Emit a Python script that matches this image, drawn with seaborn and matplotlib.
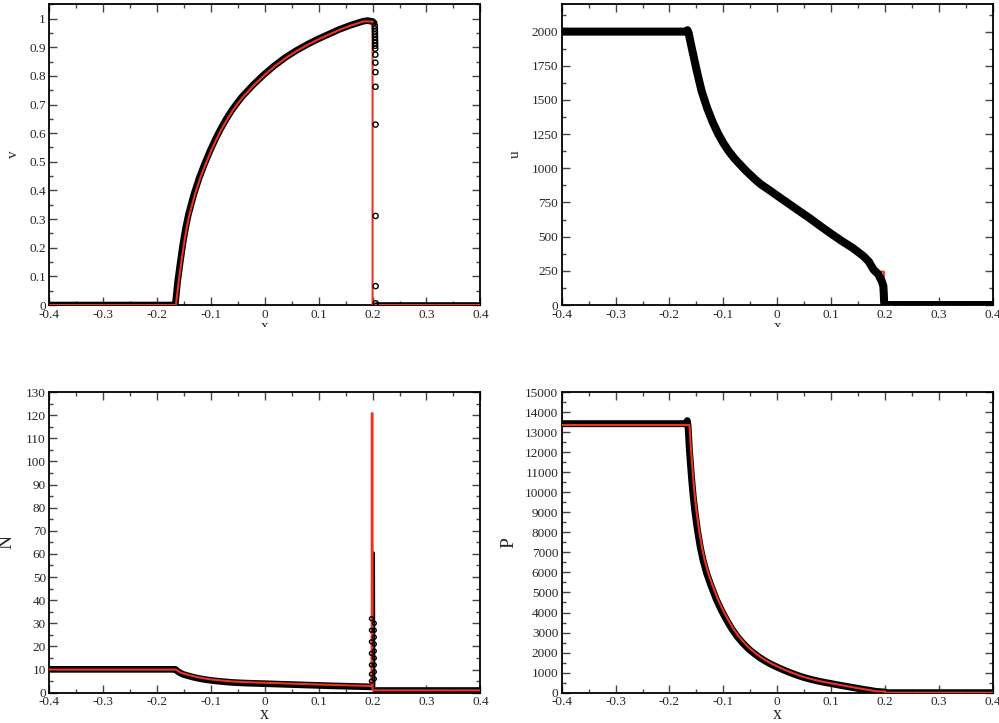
import numpy as np
import pandas as pd
import matplotlib
matplotlib.use("Agg")
import matplotlib.pyplot as plt
from matplotlib.ticker import MultipleLocator, FuncFormatter
from matplotlib.transforms import Bbox
import seaborn as sns

# ---------------- data ----------------
# v panel: exact solution (red)
v_ex_x = [-0.4, -0.165, -0.160, -0.155, -0.150, -0.145, -0.140, -0.130, -0.120, -0.110,
          -0.100, -0.090, -0.080, -0.070, -0.060, -0.050, -0.040, -0.020, 0.000, 0.020,
          0.040, 0.060, 0.080, 0.100, 0.120, 0.140, 0.160, 0.183, 0.200, 0.200, 0.400]
v_ex_y = [0.0, 0.0, 0.08, 0.15, 0.215, 0.27, 0.315, 0.385, 0.443, 0.492,
          0.537, 0.578, 0.615, 0.648, 0.678, 0.704, 0.728, 0.768, 0.804, 0.836,
          0.864, 0.888, 0.909, 0.928, 0.945, 0.962, 0.976, 0.99, 0.99, 0.0, 0.0]
# v panel: numerical solution (black band)
v_num_x = [-0.4, -0.168, -0.1665, -0.162, -0.157, -0.152, -0.147, -0.142, -0.132, -0.122,
           -0.112, -0.102, -0.092, -0.082, -0.072, -0.062, -0.052, -0.042, -0.022, -0.002,
           0.018, 0.038, 0.058, 0.078, 0.098, 0.118, 0.138, 0.158, 0.181, 0.190, 0.200, 0.203]
v_num_y = [0.0, 0.0, -0.004, 0.08, 0.15, 0.215, 0.27, 0.315, 0.385, 0.443,
           0.492, 0.537, 0.578, 0.615, 0.648, 0.678, 0.704, 0.728, 0.768, 0.804,
           0.836, 0.864, 0.888, 0.909, 0.928, 0.945, 0.962, 0.976, 0.99, 0.993, 0.99, 0.985]
v_num2_x = [0.207, 0.4]
v_num2_y = [0.0, 0.0]
# v panel: isolated particles in the shock
v_sh_x = [0.2040, 0.2042, 0.2044, 0.2045, 0.2046, 0.2047, 0.2048, 0.2049, 0.2050,
          0.2051, 0.2052, 0.2053, 0.2054, 0.2055, 0.2056, 0.2057, 0.2058]
v_sh_y = [0.975, 0.965, 0.955, 0.945, 0.935, 0.925, 0.915, 0.905, 0.895,
          0.874, 0.846, 0.813, 0.762, 0.630, 0.311, 0.066, 0.006]

# u panel
u_ex_x = [-0.4, -0.165, -0.160, -0.155, -0.150, -0.145, -0.140, -0.130, -0.120, -0.110,
          -0.100, -0.090, -0.080, -0.070, -0.060, -0.050, -0.040, -0.030, -0.020, -0.010,
          0.000, 0.020, 0.040, 0.060, 0.080, 0.100, 0.120, 0.140, 0.160, 0.170, 0.180,
          0.1846, 0.198, 0.198, 0.200, 0.200, 0.400]
u_ex_y = [2000, 2000, 1905, 1815, 1725, 1640, 1560, 1440, 1340, 1255,
          1185, 1125, 1075, 1032, 990, 952, 915, 882, 855, 828,
          800, 745, 690, 636, 578, 522, 468, 418, 358, 318, 268,
          244, 244, 6, 6, 0, 0]
u_num_x = [-0.4, -0.168, -0.1665, -0.1645, -0.160, -0.155, -0.150, -0.145, -0.140, -0.130,
           -0.120, -0.110, -0.100, -0.090, -0.080, -0.070, -0.060, -0.050, -0.040, -0.030,
           -0.020, -0.010, 0.000, 0.020, 0.040, 0.060, 0.080, 0.100, 0.120, 0.140,
           0.160, 0.170, 0.1784, 0.1877, 0.194, 0.197, 0.198, 0.1985, 0.200, 0.202, 0.400]
u_num_y = [2000, 2000, 2010, 1990, 1905, 1815, 1725, 1640, 1560, 1440,
           1340, 1255, 1185, 1125, 1075, 1032, 990, 952, 915, 882,
           855, 828, 800, 745, 690, 636, 578, 522, 468, 418,
           358, 318, 261, 224, 175, 139, 66, 18, 5, 0, 0]

# N panel
N_ex_x = [-0.4, -0.165, -0.160, -0.155, -0.150, -0.140, -0.130, -0.120, -0.110, -0.100,
          -0.080, -0.060, -0.040, -0.020, 0.000, 0.040, 0.080, 0.120, 0.160, 0.185,
          0.1985, 0.1985, 0.200, 0.200, 0.400]
N_ex_y = [10.0, 10.0, 9.2, 8.6, 8.2, 7.6, 7.0, 6.5, 6.1, 5.75,
          5.25, 4.85, 4.6, 4.45, 4.3, 4.0, 3.7, 3.4, 3.15, 3.0,
          2.9, 120.8, 120.8, 1.0, 1.0]
N_num_x = [-0.4, -0.166, -0.161, -0.156, -0.151, -0.141, -0.131, -0.121, -0.111, -0.101,
           -0.081, -0.061, -0.041, -0.021, 0.000, 0.040, 0.080, 0.120, 0.160, 0.185, 0.197]
N_num_y = [10.1, 10.1, 9.1, 8.4, 7.9, 7.2, 6.6, 6.1, 5.7, 5.35,
           4.85, 4.45, 4.2, 4.05, 3.9, 3.6, 3.3, 3.0, 2.75, 2.6, 2.5]
N_col_x = [0.1998, 0.2006, 0.2013, 0.2020]
N_col_y = [2.5, 60.5, 60.0, 2.0]
N_num2_x = [0.2060, 0.4]
N_num2_y = [1.0, 1.0]
N_sh_x = [0.1978, 0.1978, 0.1978, 0.1978, 0.1978, 0.1978, 0.1978,
          0.2032, 0.2032, 0.2032, 0.2032, 0.2032, 0.2032, 0.2032, 0.2032, 0.2032]
N_sh_y = [32, 27, 22, 17, 12, 8, 5,
          30, 27, 24, 21, 18, 15, 12, 9, 6]

# P panel
P_ex_x = [-0.4, -0.163, -0.160, -0.157, -0.1557, -0.153, -0.1494, -0.145, -0.140, -0.135,
          -0.128, -0.120, -0.110, -0.100, -0.090, -0.080, -0.070, -0.060, -0.050, -0.040,
          -0.030, -0.020, -0.010, 0.000, 0.010, 0.020, 0.030, 0.040, 0.050, 0.060,
          0.070, 0.080, 0.090, 0.100, 0.120, 0.140, 0.160, 0.175, 0.185, 0.200, 0.200, 0.400]
P_ex_y = [13354, 13354, 12100, 11050, 10610, 9800, 8949, 8100, 7283, 6650,
          5956, 5350, 4650, 4080, 3580, 3130, 2760, 2450, 2180, 1960,
          1760, 1590, 1440, 1310, 1190, 1075, 970, 870, 780, 705,
          635, 575, 520, 470, 370, 275, 180, 115, 66, 66, 0, 0]
P_num_x = [-0.4, -0.168, -0.167, -0.1655, -0.163, -0.160, -0.1587, -0.156, -0.1524, -0.148,
           -0.143, -0.138, -0.131, -0.123, -0.113, -0.103, -0.093, -0.083, -0.073, -0.063,
           -0.053, -0.043, -0.033, -0.023, -0.013, -0.003, 0.007, 0.017, 0.027, 0.037,
           0.047, 0.057, 0.067, 0.077, 0.087, 0.097, 0.117, 0.137, 0.157, 0.172, 0.183,
           0.200, 0.205, 0.400]
P_num_y = [13420, 13420, 13570, 13300, 12100, 11050, 10610, 9800, 8949, 8100,
           7283, 6650, 5956, 5350, 4650, 4080, 3580, 3130, 2760, 2450,
           2180, 1960, 1760, 1590, 1440, 1310, 1190, 1075, 970, 870,
           780, 705, 635, 575, 520, 470, 370, 275, 180, 115, 66,
           30, 0, 0]

# axis settings
x_limits = (-0.4, 0.4)
v_limits = (0, 1.05)
u_limits = (0, 2200)
N_limits = (0, 130)
P_limits = (0, 15000)

# ---------------- style ----------------
sns.set_style("ticks")
plt.rcParams["font.family"] = ["Liberation Serif", "DejaVu Serif"]
plt.rcParams["axes.unicode_minus"] = False

RED = "#ee3322"
fig = plt.figure(figsize=(9.99, 7.23), dpi=100)

W = 0.4314
H_top = 0.416
H_bot = 0.4159
ax_v = fig.add_axes([0.0494, 0.5781, W, H_top])
ax_u = fig.add_axes([0.5623, 0.5781, W, H_top])
ax_N = fig.add_axes([0.0494, 0.0419, W, H_bot])
ax_P = fig.add_axes([0.5623, 0.0419, W, H_bot])


def fmt(val, pos):
    s = "%g" % round(val, 6)
    return "0" if s in ("-0", "0") else s


def style_axis(ax, ymaj, ymin, ylim):
    ax.set_xlim(*x_limits)
    ax.set_ylim(*ylim)
    ax.xaxis.set_major_locator(MultipleLocator(0.1))
    ax.xaxis.set_minor_locator(MultipleLocator(0.05))
    ax.yaxis.set_major_locator(MultipleLocator(ymaj))
    ax.yaxis.set_minor_locator(MultipleLocator(ymin))
    ax.xaxis.set_major_formatter(FuncFormatter(fmt))
    ax.yaxis.set_major_formatter(FuncFormatter(fmt))
    ax.tick_params(which="both", direction="in", top=True, right=True,
                   color="#444444", labelsize=9.5, pad=2.5)
    ax.tick_params(which="major", length=6, width=1.0)
    ax.tick_params(which="minor", length=3, width=1.0)
    for sp in ax.spines.values():
        sp.set_linewidth(1.3)
        sp.set_color("black")
        sp.set_visible(True)


def band(ax, xs, ys, lw, z=2):
    sns.lineplot(x=xs, y=ys, ax=ax, sort=False, estimator=None, color="black",
                 lw=lw, zorder=z, solid_capstyle="round", solid_joinstyle="round")


def exact(ax, xs, ys, z=3):
    sns.lineplot(x=xs, y=ys, ax=ax, sort=False, estimator=None, color=RED,
                 lw=1.5, zorder=z)


def circles(ax, xs, ys, s=14):
    sns.scatterplot(x=xs, y=ys, ax=ax, marker="o", s=s, facecolors="none",
                    edgecolors="black", linewidth=1.0, zorder=4)


# v
band(ax_v, v_num_x, v_num_y, 4.8)
band(ax_v, v_num2_x, v_num2_y, 4.8)
exact(ax_v, v_ex_x, v_ex_y)
circles(ax_v, v_sh_x, v_sh_y)
style_axis(ax_v, 0.1, 0.05, v_limits)

# u
exact(ax_u, u_ex_x, u_ex_y, z=1)
band(ax_u, u_num_x, u_num_y, 5.8)
style_axis(ax_u, 250, 125, u_limits)

# N
band(ax_N, N_num_x, N_num_y, 4.8)
band(ax_N, N_col_x, N_col_y, 2.5)
band(ax_N, N_num2_x, N_num2_y, 4.8)
circles(ax_N, N_sh_x, N_sh_y, s=8)
exact(ax_N, N_ex_x, N_ex_y)
style_axis(ax_N, 10, 5, N_limits)

# P
band(ax_P, P_num_x, P_num_y, 5.0)
exact(ax_P, P_ex_x, P_ex_y)
style_axis(ax_P, 1000, 500, P_limits)

# labels
ax_v.set_ylabel("v", fontsize=11)
ax_v.yaxis.set_label_coords(-0.068, 0.5)
ax_u.set_ylabel("u", fontsize=11)
ax_u.yaxis.set_label_coords(-0.092, 0.5)
ax_N.set_ylabel("N", fontsize=14)
ax_N.yaxis.set_label_coords(-0.078, 0.5)
ax_P.set_ylabel("P", fontsize=14)
ax_P.yaxis.set_label_coords(-0.103, 0.5)

for ax in (ax_v, ax_u):
    ax.set_xlabel("x", fontsize=11)
    ax.xaxis.set_label_coords(0.5, -0.072)
    lab = ax.xaxis.label
    lab.set_va("center")
    lab.set_clip_box(Bbox([[0, 723 - 327], [999, 723]]))
    lab.set_clip_on(True)
for ax in (ax_N, ax_P):
    ax.set_xlabel("x", fontsize=13)
    ax.xaxis.set_label_coords(0.5, -0.071)
    ax.xaxis.label.set_va("center")

fig.savefig("out.png", dpi=100)
